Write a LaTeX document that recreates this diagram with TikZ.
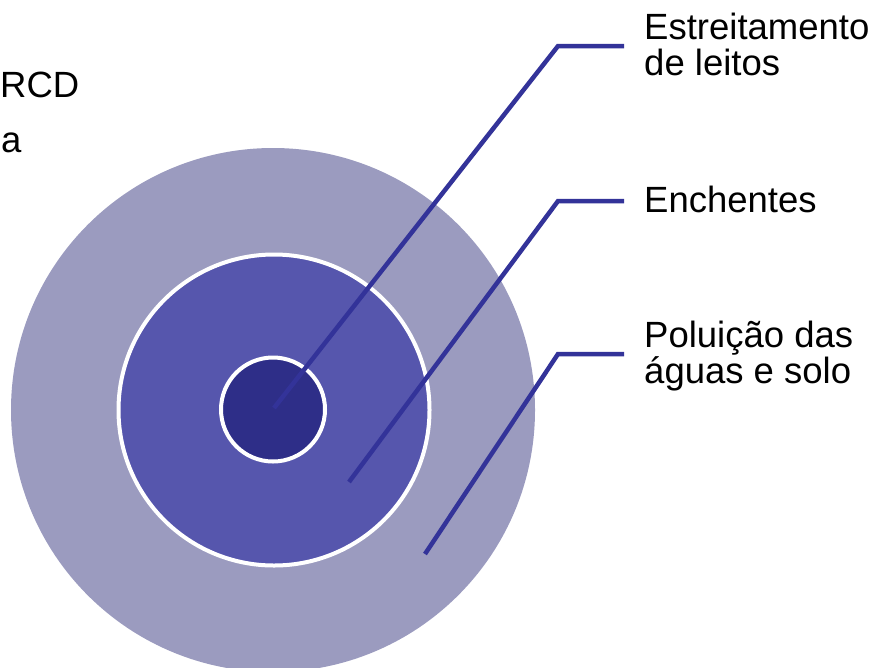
\documentclass[tikz,border=0pt]{standalone}
\usepackage{fontspec}
\setmainfont{Liberation Sans}
\definecolor{outerc}{HTML}{9B9BBF}
\definecolor{midc}{HTML}{5656AD}
\definecolor{innerc}{HTML}{2E2E88}
\definecolor{linec}{HTML}{333399}
\begin{document}
\begin{tikzpicture}[x=1pt,y=-1pt,
  lbl/.style={anchor=base west,inner sep=0pt,font=\fontsize{36.5}{37}\selectfont},
  leader/.style={draw=linec,line width=4.5pt},
  ring/.style={draw=white,line width=4pt}]
\useasboundingbox (0,0) rectangle (882,667);
\fill[outerc] (273,410) circle[radius=262];
\filldraw[fill=midc,ring] (274,410) circle[radius=155.5];
\filldraw[fill=innerc,ring] (273,409.5) circle[radius=52];
% text
\node[lbl] (rcd) at (0,97) {RCD};
\node[lbl] (a) at (1,152) {a};
\node[lbl] (e1) at (644,39) {Estreitamento};
\node[lbl] (e2) at (644,75) {de leitos};
\node[lbl] (en) at (644,212) {Enchentes};
\node[lbl] (p1) at (644,347) {Poluição das};
\node[lbl] (p2) at (644,383) {águas e solo};
% leader coordinates
\coordinate (s1) at (274,408);
\coordinate (c1) at (558,46);
\coordinate (t1) at (624,46);
\coordinate (s2) at (349,482);
\coordinate (c2) at (558,201);
\coordinate (t2) at (624,201);
\coordinate (s3) at (425,554);
\coordinate (c3) at (558,354);
\coordinate (t3) at (624,354);
\draw[leader] (s1) -- (c1) -- (t1);
\draw[leader] (s2) -- (c2) -- (t2);
\draw[leader] (s3) -- (c3) -- (t3);
\end{tikzpicture}
\end{document}
